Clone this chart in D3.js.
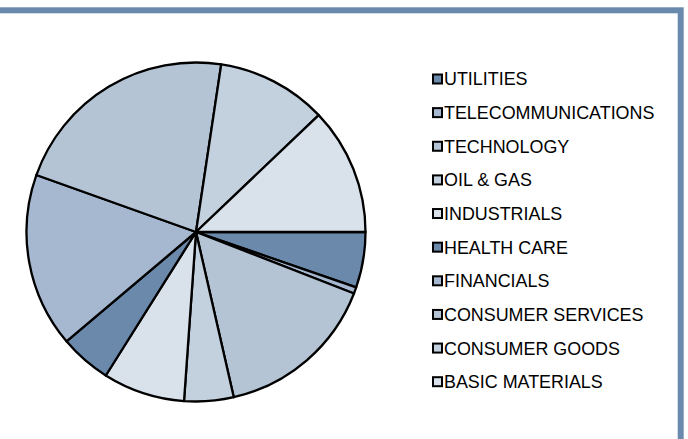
<!DOCTYPE html>
<html>
<head>
<meta charset="utf-8">
<script src="https://cdn.jsdelivr.net/npm/d3@7.9.0/dist/d3.min.js"></script>
<style>
  html, body { margin: 0; padding: 0; background: #fff; }
  svg { display: block; font-family: "Liberation Sans", Arial, sans-serif; }
</style>
</head>
<body>
<svg id="chart" width="688" height="439"></svg>
<script>
// sectors, in pie order (clockwise from 3 o'clock) = legend order
const sectors = ['UTILITIES', 'TELECOMMUNICATIONS', 'TECHNOLOGY', 'OIL & GAS', 'INDUSTRIALS',
  'HEALTH CARE', 'FINANCIALS', 'CONSUMER SERVICES', 'CONSUMER GOODS', 'BASIC MATERIALS'];
// share of portfolio, %
const shares = [5.3, 0.6, 15.5, 4.7, 7.8, 4.9, 16.6, 21.9, 10.5, 12.1];
const palette = ['#6a89ab', '#a6b8cf', '#b4c4d5', '#c3d0de', '#d9e1ea'];

const W = 688, H = 439;
const svg = d3.select('#chart');

// outer frame (only top and right edges fall inside the picture)
svg.append('rect')
  .attr('x', -20).attr('y', 10.3)
  .attr('width', 680.7 + 20).attr('height', H + 40)
  .attr('fill', 'none')
  .attr('stroke', '#6a8aad')
  .attr('stroke-width', 6);

const data = sectors.map((name, i) => ({ name, value: shares[i] }));
const color = d3.scaleOrdinal().domain(sectors).range(sectors.map((d, i) => palette[i % 5]));

const cx = 196, cy = 232, r = 169.5;

const pie = d3.pie()
  .sort(null)
  .value(d => d.value)
  .startAngle(Math.PI / 2)
  .endAngle(Math.PI / 2 + 2 * Math.PI);

const arc = d3.arc().innerRadius(0).outerRadius(r);

svg.append('g')
  .attr('transform', `translate(${cx},${cy})`)
  .selectAll('path')
  .data(pie(data))
  .join('path')
    .attr('d', arc)
    .attr('fill', d => color(d.data.name))
    .attr('stroke', '#000')
    .attr('stroke-width', 2.3)
    .attr('stroke-linejoin', 'round');

// legend
const legendY = d3.scalePoint().domain(sectors).range([79, 381.7]);

const items = svg.append('g')
  .selectAll('g')
  .data(sectors)
  .join('g')
    .attr('transform', d => `translate(432,${legendY(d)})`);

items.append('rect')
  .attr('x', 1).attr('y', -4.5)
  .attr('width', 9).attr('height', 9)
  .attr('fill', d => color(d))
  .attr('stroke', '#000')
  .attr('stroke-width', 2);

items.append('text')
  .attr('x', 12)
  .attr('dy', '0.36em')
  .attr('font-size', 17.9)
  .attr('fill', '#000')
  .text(d => d);
</script>
</body>
</html>
